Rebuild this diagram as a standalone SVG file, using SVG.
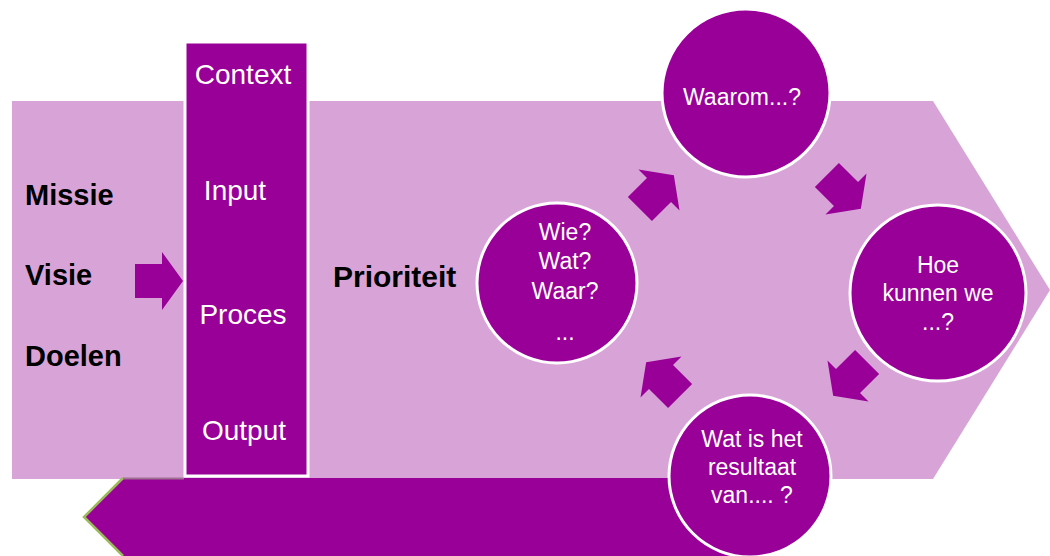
<svg xmlns="http://www.w3.org/2000/svg" width="1050" height="556" viewBox="0 0 1050 556">
  <style>
    .light { fill: #D8A4D8; }
    .dark { fill: #980098; }
    .ring { fill: #980098; stroke: #FFFFFF; stroke-width: 3; }
    .lbl { font-family: "Liberation Sans", Arial, sans-serif; font-weight: bold; font-size: 29px; fill: #000000; }
    .col { font-family: "Liberation Sans", Arial, sans-serif; font-size: 28px; fill: #FFFFFF; text-anchor: middle; }
    .cir { font-family: "Liberation Sans", Arial, sans-serif; font-size: 23px; fill: #FFFFFF; text-anchor: middle; }
  </style>
  <defs>
    <!-- block arrow, base of the head at the origin, pointing along +x -->
    <polygon id="blockArrow" points="-27,-17 0,-17 0,-29 21,0 0,29 0,17 -27,17" fill="#980098"/>
  </defs>

  <!-- large background chevron -->
  <g id="background">
    <polygon class="light" points="12,101 933,101 1050,290 933,479 12,479"/>
  </g>

  <!-- return arrow along the bottom -->
  <g id="return-arrow">
    <polygon class="dark" points="84,517 123,478 730,478 730,556 123,556"/>
    <polyline points="123,478 84,517 123,556" fill="none" stroke="#9BBB59" stroke-width="2.5"/>
    <line x1="123" y1="478.5" x2="184" y2="478.5" stroke="#A07090" stroke-width="2"/>
  </g>

  <g id="mvd-labels">
    <text class="lbl" x="25" y="205">Missie</text>
    <text class="lbl" x="25" y="285">Visie</text>
    <text class="lbl" x="25" y="366">Doelen</text>
  </g>

  <g id="column">
    <rect class="dark" x="185" y="42" width="123" height="434" stroke="#FFFFFF" stroke-width="3"/>
    <text class="col" x="243" y="84">Context</text>
    <text class="col" x="235" y="200">Input</text>
    <text class="col" x="243" y="324">Proces</text>
    <text class="col" x="244" y="440">Output</text>
  </g>

  <g id="priority">
    <text class="lbl" x="333" y="287" style="font-size:30px">Prioriteit</text>
  </g>

  <g id="node-waarom">
    <circle class="ring" cx="746" cy="93" r="84"/>
    <text class="cir" x="742" y="105">Waarom...?</text>
  </g>

  <g id="node-hoe">
    <circle class="ring" cx="938" cy="293" r="88"/>
    <text class="cir" x="938" y="273">Hoe</text>
    <text class="cir" x="938" y="301">kunnen we</text>
    <text class="cir" x="938" y="330">...?</text>
  </g>

  <g id="node-resultaat">
    <circle class="ring" cx="750" cy="476" r="81"/>
    <text class="cir" x="752" y="447">Wat is het</text>
    <text class="cir" x="752" y="475">resultaat</text>
    <text class="cir" x="752" y="503">van.... ?</text>
  </g>

  <g id="node-wie">
    <circle class="ring" cx="557" cy="283" r="80"/>
    <text class="cir" x="565" y="240">Wie?</text>
    <text class="cir" x="565" y="269">Wat?</text>
    <text class="cir" x="565" y="299">Waar?</text>
    <text class="cir" x="565" y="340">...</text>
  </g>

  <g id="connectors">
    <use href="#blockArrow" transform="translate(162,281)"/>
    <use href="#blockArrow" transform="translate(659,190) rotate(-45)"/>
    <use href="#blockArrow" transform="translate(846,194) rotate(45)"/>
    <use href="#blockArrow" transform="translate(848,381) rotate(135)"/>
    <use href="#blockArrow" transform="translate(661,377) rotate(-135)"/>
  </g>
</svg>
